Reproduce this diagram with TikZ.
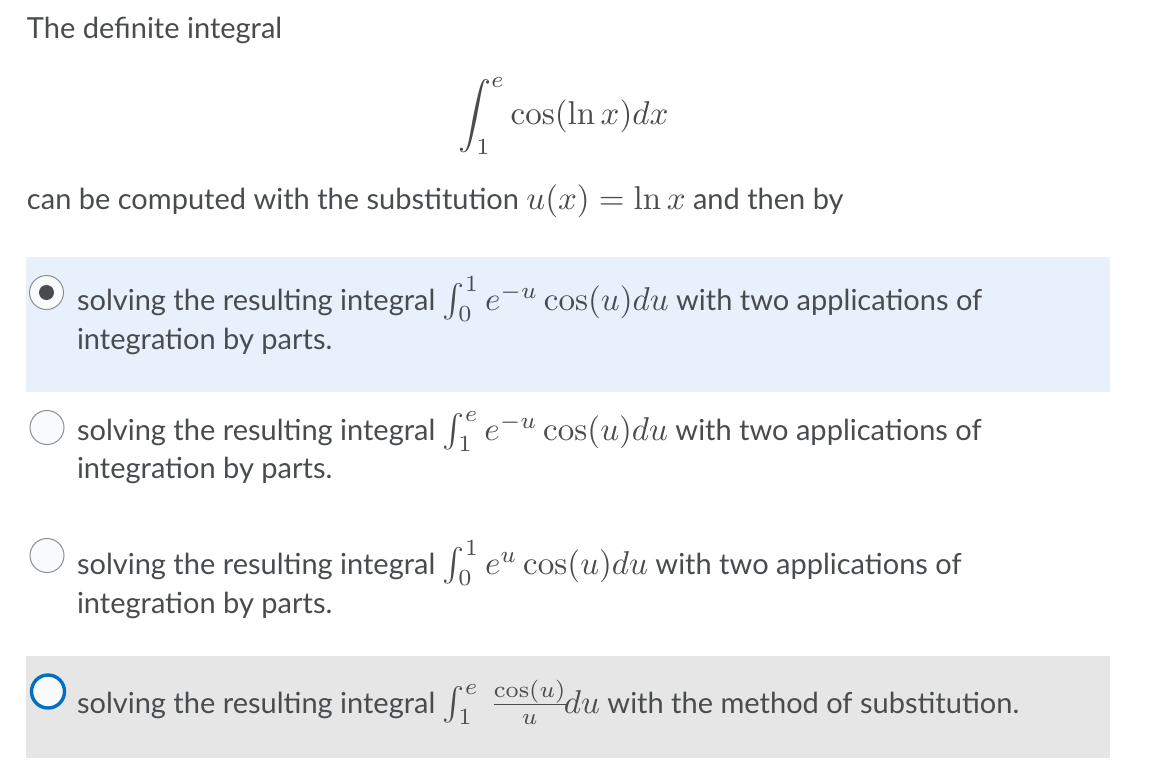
\documentclass[tikz,border=0pt]{standalone}
\usepackage{amsmath}
\usepackage{graphicx}
\usepackage[no-math]{fontspec}
\setmainfont{Lato}
\definecolor{txt}{HTML}{494C4E}
\definecolor{selbg}{HTML}{E8F1FB}
\definecolor{greybg}{HTML}{E6E6E6}
\definecolor{radioedge}{HTML}{8A8E93}
\definecolor{radiofill}{HTML}{F9FAFC}
\definecolor{focusblue}{HTML}{006FBF}
\newcommand{\mth}[1]{\scalebox{3.3}{\fontsize{10}{12}\selectfont$#1$}}
\tikzset{
  line/.style={anchor=base west, inner sep=0pt, outer sep=0pt, text=txt, font=\fontsize{29}{39}\selectfont},
  radio/.style={circle, draw=radioedge, fill=radiofill, line width=1pt, minimum size=34pt, inner sep=0pt},
  focusradio/.style={circle, draw=focusblue, fill=radiofill, line width=3.4pt, minimum size=33pt, inner sep=0pt},
  dot/.style={circle, fill=txt, minimum size=15pt, inner sep=0pt}
}
\begin{document}
\begin{tikzpicture}[x=1pt,y=-1pt]
\useasboundingbox[fill=white] (0,0) rectangle (1164,777);
% panels
\fill[selbg] (26,257) rectangle (1110,392);
\fill[greybg] (26,656) rectangle (1110,758);
% header
\node[line] (t1) at (27,38) {The definite integral};
\node[line] (int) at (458,124) {\mth{\displaystyle\int_1^e \cos(\ln x)dx}};
\node[line] (t2) at (27,209) {can be computed with the substitution \mth{u(x) = \ln x} and then by};
% option 1
\node[radio] (r1) at (46.5,292.5) {};
\node[dot] (r1d) at (r1.center) {};
\node[line] (o1a) at (77,310) {solving the resulting integral \mth{\int_0^1 e^{-u}\cos(u)du} with two applications of};
\node[line] (o1b) at (77,349) {integration by parts.};
% option 2
\node[radio] (r2) at (47,427.5) {};
\node[line] (o2a) at (77,440) {solving the resulting integral \mth{\int_1^e e^{-u}\cos(u)du} with two applications of};
\node[line] (o2b) at (77,478) {integration by parts.};
% option 3
\node[radio] (r3) at (47,555.5) {};
\node[line] (o3a) at (77,574) {solving the resulting integral \mth{\int_0^1 e^{u}\cos(u)du} with two applications of};
\node[line] (o3b) at (77,613) {integration by parts.};
% option 4
\node[focusradio] (r4) at (48,691.5) {};
\node[line] (o4a) at (77,713) {solving the resulting integral \mth{\int_1^e \,\frac{\cos(u)}{u}\!du} with the method of substitution.};
\end{tikzpicture}
\end{document}
